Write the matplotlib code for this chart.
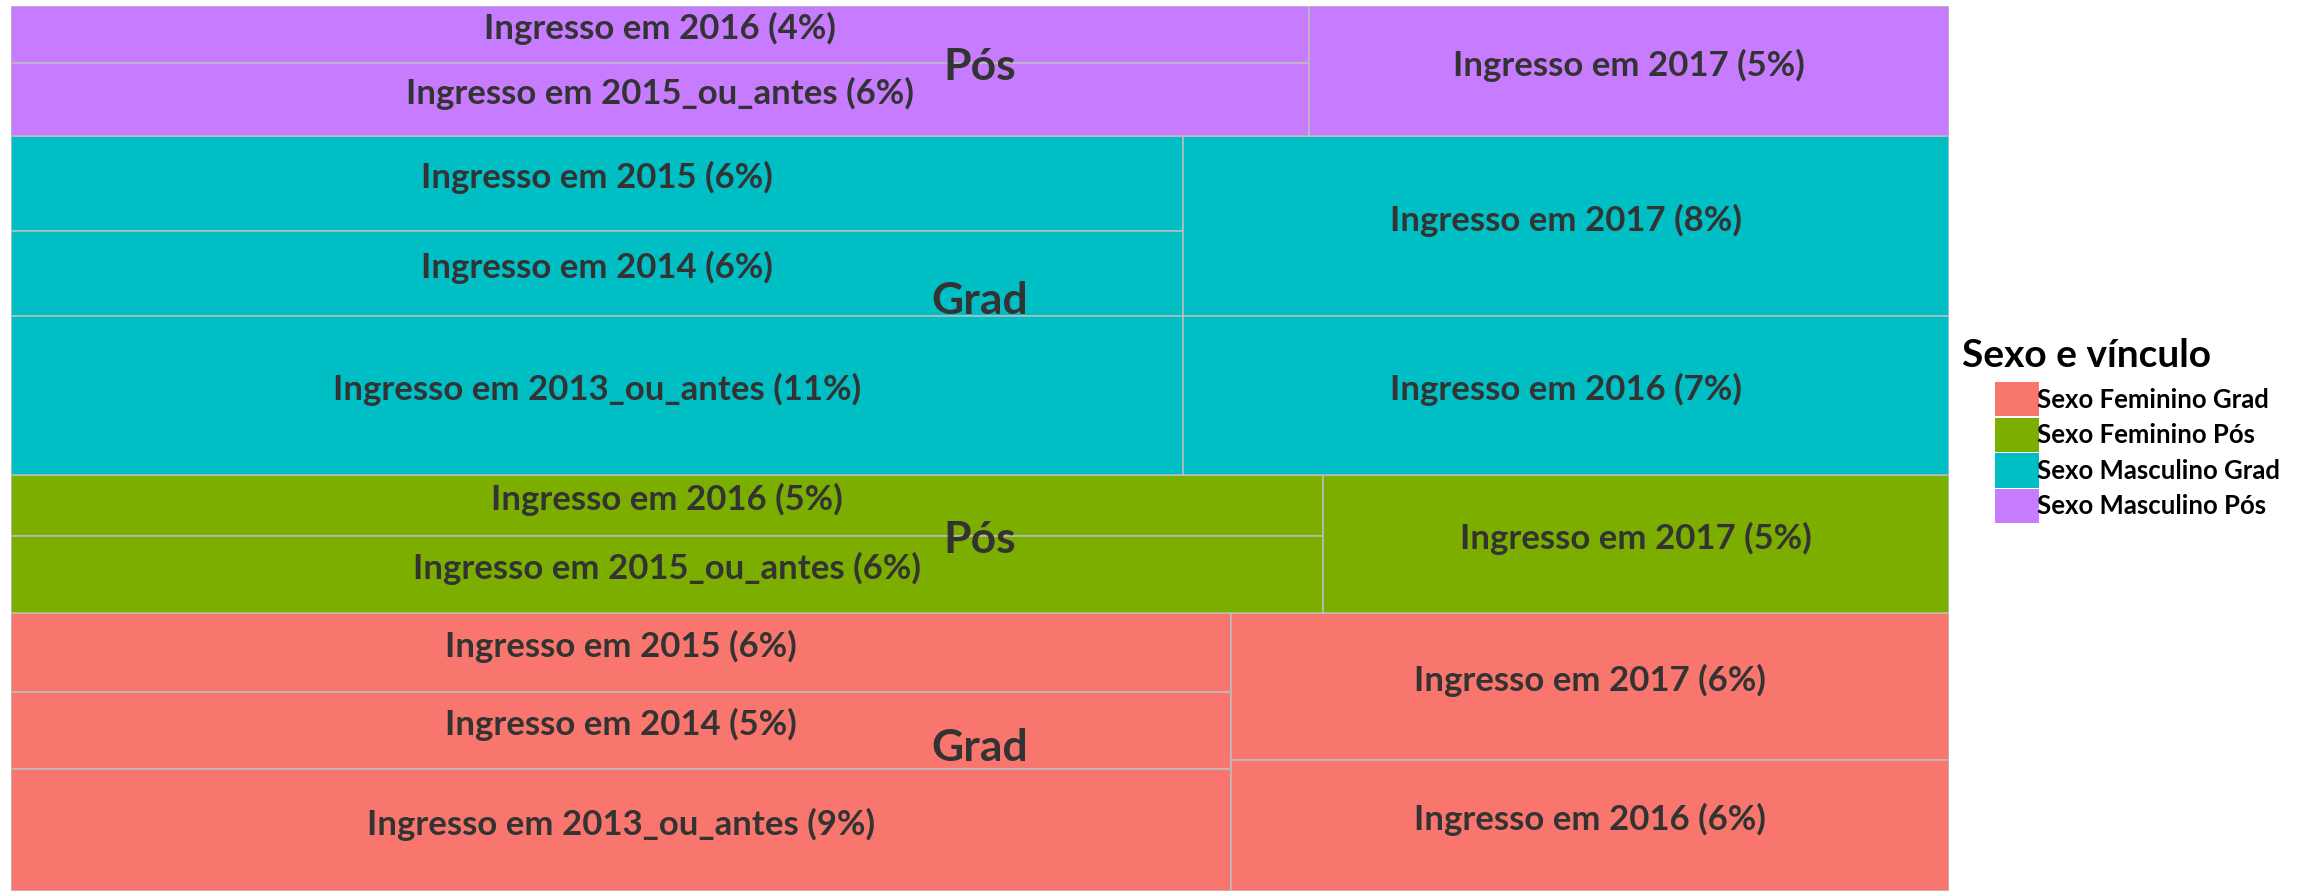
import matplotlib
matplotlib.use("Agg")
import matplotlib.pyplot as plt
import matplotlib.transforms as mtransforms
from matplotlib.patches import Rectangle, Patch

plt.rcParams['font.family'] = ['Lato', 'DejaVu Sans']

# ------------------ dados (percentual de area estimado + rotulo) ------------------
grupos = ['Sexo Feminino Grad', 'Sexo Feminino Pós', 'Sexo Masculino Grad', 'Sexo Masculino Pós']
grupos_curto = ['Grad', 'Pós', 'Grad', 'Pós']
cores = ['#F8766D', '#7CAE00', '#00BFC4', '#C77CFF']

fem_grad_anos = ['2015', '2014', '2013_ou_antes', '2017', '2016']
fem_grad_area = [5.62, 5.48, 8.68, 6.15, 5.48]
fem_grad_pct = [6, 5, 9, 6, 6]
fem_grad_col = [0, 0, 0, 1, 1]

fem_pos_anos = ['2016', '2015_ou_antes', '2017']
fem_pos_area = [4.67, 5.89, 5.04]
fem_pos_pct = [5, 6, 5]
fem_pos_col = [0, 0, 1]

masc_grad_anos = ['2015', '2014', '2013_ou_antes', '2017', '2016']
masc_grad_area = [6.49, 5.81, 10.86, 8.04, 7.10]
masc_grad_pct = [6, 6, 11, 8, 7]
masc_grad_col = [0, 0, 0, 1, 1]

masc_pos_anos = ['2016', '2015_ou_antes', '2017']
masc_pos_area = [4.31, 5.52, 4.85]
masc_pos_pct = [4, 6, 5]
masc_pos_col = [0, 0, 1]

dados = [
    (fem_grad_anos, fem_grad_area, fem_grad_pct, fem_grad_col),
    (fem_pos_anos, fem_pos_area, fem_pos_pct, fem_pos_col),
    (masc_grad_anos, masc_grad_area, masc_grad_pct, masc_grad_col),
    (masc_pos_anos, masc_pos_area, masc_pos_pct, masc_pos_col),
]

W, H = 2305, 891
fig = plt.figure(figsize=(W / 100, H / 100), dpi=100)
ax = fig.add_axes([11 / W, 0, 1938 / W, 885 / H])
ax.set_xlim(0, 1)
ax.set_ylim(0, 1)
ax.axis('off')

borda = '#BDBDBD'
cor_txt = '#333333'
total = sum(sum(d[1]) for d in dados)

# pequenos ajustes verticais dos rotulos (em pixels)
tr_tile = mtransforms.offset_copy(ax.transData, fig=fig, y=6, units='dots')
tr_grupo = mtransforms.offset_copy(ax.transData, fig=fig, y=4, units='dots')

# grupos empilhados de baixo para cima, colunas dentro de cada grupo
y0 = 0
for g, (anos, area, pct, col) in enumerate(dados):
    soma_g = sum(area)
    h = soma_g / total
    x0 = 0
    for c in sorted(set(col)):
        idx = [i for i in range(len(anos)) if col[i] == c]
        soma_c = sum(area[i] for i in idx)
        w = soma_c / soma_g
        ytop = y0 + h
        for i in idx:
            th = area[i] / soma_c * h
            ax.add_patch(Rectangle((x0, ytop - th), w, th, facecolor=cores[g],
                                   edgecolor=borda, linewidth=1.1))
            ax.text(x0 + w / 2, ytop - th / 2, f'Ingresso em {anos[i]} ({pct[i]}%)',
                    ha='center', va='center', fontsize=25, fontweight='bold',
                    color=cor_txt, transform=tr_tile)
            ytop -= th
        x0 += w
    ax.text(0.5, y0 + h / 2, grupos_curto[g], ha='center', va='center',
            fontsize=32, fontweight='bold', color=cor_txt, transform=tr_grupo)
    y0 += h

# legenda
fig.text(1962 / W, 1 - 367 / H, 'Sexo e vínculo', fontsize=28, fontweight='bold',
         ha='left', va='baseline')
handles = [Patch(facecolor=c, edgecolor='none') for c in cores]
fig.legend(handles, grupos, loc='upper left', bbox_to_anchor=(1995 / W, 1 - 382 / H),
           frameon=False, handlelength=1.72, handleheight=1.68,
           labelspacing=0.05, handletextpad=-0.1, borderpad=0, borderaxespad=0,
           prop={'weight': 'bold', 'size': 18.5})

fig.savefig('out.png', dpi=100)
